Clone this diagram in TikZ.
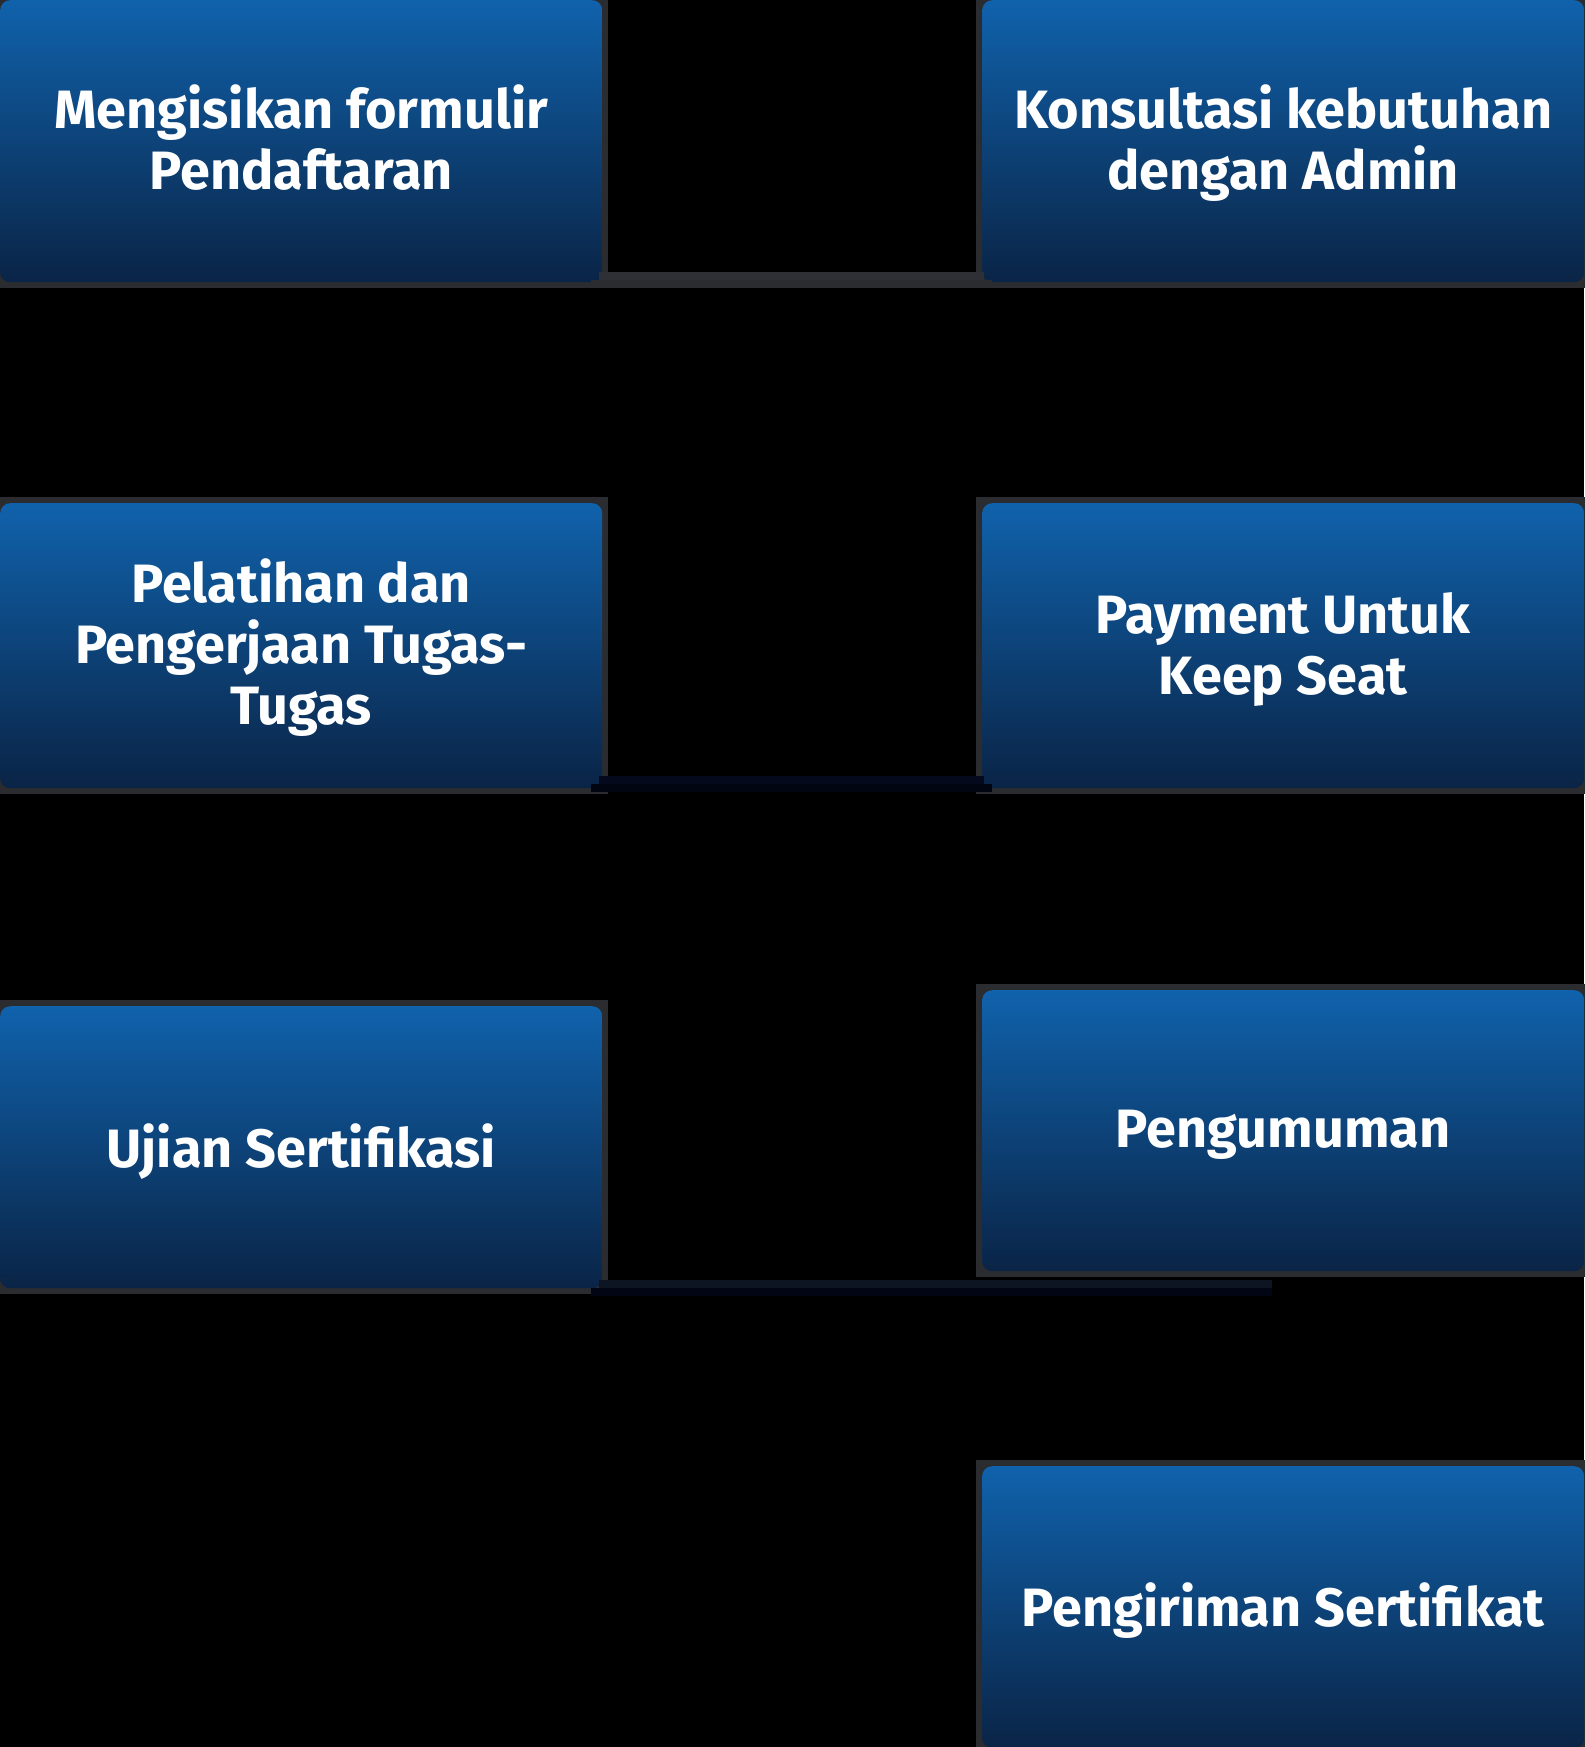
\documentclass[tikz,border=0pt]{standalone}
\usepackage{fontspec}
\setmainfont{Fira Sans}
\usetikzlibrary{calc,backgrounds}
\definecolor{boxtop}{HTML}{1062AC}
\definecolor{boxbot}{HTML}{0A2446}
\definecolor{edgegray}{HTML}{2B2C30}
\definecolor{cAtop}{HTML}{2E3035}
\definecolor{cAbot}{HTML}{2A2C30}
\definecolor{cBtop}{HTML}{040A1C}
\definecolor{cBbot}{HTML}{010411}
\definecolor{cCtop}{HTML}{0D1522}
\definecolor{cCbot}{HTML}{020614}
\begin{document}
\begin{tikzpicture}[x=1pt,y=-1pt,
  stepbox/.style={rounded corners=10pt, top color=boxtop, bottom color=boxbot,
    shading angle=0, inner sep=0pt, minimum width=602pt},
  steptext/.style={text=white, align=center, inner sep=0pt,
    font=\bfseries\fontsize{54}{61}\selectfont},
  barup/.style={line width=8pt, line cap=butt},
  bardown/.style={line width=8pt, line cap=butt}]
\useasboundingbox (0,0) rectangle (1584,1747);
\node[stepbox, minimum height=282pt, anchor=north west] (B1) at (0,0) {};
\node[stepbox, minimum height=282pt, anchor=north west] (B2) at (982,0) {};
\node[stepbox, minimum height=285pt, anchor=north west] (B3) at (0,503) {};
\node[stepbox, minimum height=285pt, anchor=north west] (B4) at (982,503) {};
\node[stepbox, minimum height=282pt, anchor=north west] (B5) at (0,1006) {};
\node[stepbox, minimum height=281pt, anchor=north west] (B6) at (982,990) {};
\node[stepbox, minimum height=282pt, anchor=north west] (B7) at (982,1466) {};
\node[steptext] (T1) at ($(B1.center)+(0,-4)$) {Mengisikan formulir\\Pendaftaran};
\node[steptext] (T2) at ($(B2.center)+(0,1.5)$) {Konsultasi kebutuhan\\dengan Admin};
\node[steptext] (T3) at ($(B3.center)+(0,2)$) {Pelatihan dan\\Pengerjaan Tugas-\\Tugas};
\node[steptext] (T4) at ($(B4.center)+(0,4)$) {Payment Untuk\\Keep Seat};
\node[steptext] (T5) at ($(B5.center)+(0,4.5)$) {Ujian Sertifikasi};
\node[steptext] (T6) at ($(B6.center)+(0,4.5)$) {Pengumuman};
\node[steptext] (T7) at ($(B7.center)+(0,3.5)$) {Pengiriman Sertifikat};
\begin{scope}[on background layer]
  \fill[black] (0,0) rectangle (1584,1747);
  \foreach \b in {B1,B2,B3,B4,B5,B6,B7}{
    \fill[edgegray] ($(\b.north west)+(-6,-6)$) rectangle ($(\b.south east)+(6,6)$);
  }
\end{scope}
% connectors
\draw[barup, cAtop] ($(B1.south east)+(-3,-6)$) -- ($(B2.south west)+(2,-6)$);
\draw[bardown, cAbot] ($(B1.south east)+(-11,2)$) -- ($(B2.south west)+(10,2)$);
\draw[barup, cBtop] ($(B3.south east)+(-3,-8)$) -- ($(B4.south west)+(2,-8)$);
\draw[bardown, cBbot] ($(B3.south east)+(-11,0)$) -- ($(B4.south west)+(10,0)$);
\draw[barup, cCtop] ($(B5.south east)+(-3,-4)$) -- ($(B6.south)+(-11,13)$);
\draw[bardown, cCbot] ($(B5.south east)+(-11,4)$) -- ($(B6.south)+(-11,21)$);
\end{tikzpicture}
\end{document}
